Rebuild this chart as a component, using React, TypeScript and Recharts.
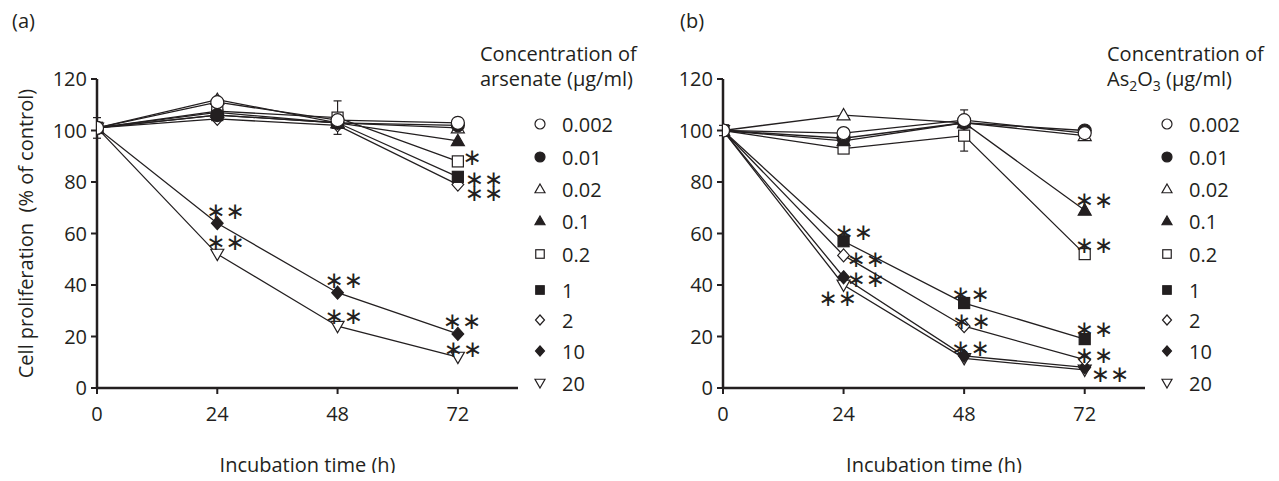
import React from "react";
import { ErrorBar, Label, Line, LineChart, XAxis, YAxis } from "recharts";

// incubation times (h)
const times = [0, 24, 48, 72];
const concentrations = ["0.002", "0.01", "0.02", "0.1", "0.2", "1", "2", "10", "20"];
const shapes = ["circleOpen", "circle", "triUpOpen", "triUp", "squareOpen", "square", "diamondOpen", "diamond", "triDownOpen"];
const yTicks = [0, 20, 40, 60, 80, 100, 120];

// (a) arsenate, % of control, one array per concentration
const arsenate0002 = [101, 111, 104, 103];
const arsenate001 = [101, 106, 103, 102];
const arsenate002 = [101, 112, 103, 101];
const arsenate01 = [101, 107, 103, 96];
const arsenate02 = [101, 107.5, 105, 88];
const arsenate1 = [101, 106, 103, 82];
const arsenate2 = [101, 104.5, 102, 79];
const arsenate10 = [101, 64, 37, 21];
const arsenate20 = [101, 52, 24, 12];

// (b) As2O3
const as2o3_0002 = [100, 99, 104, 99];
const as2o3_001 = [100, 97, 103, 100];
const as2o3_002 = [100, 106, 103, 98];
const as2o3_01 = [100, 96, 103, 69];
const as2o3_02 = [100, 93, 98, 52];
const as2o3_1 = [100, 57, 33, 19];
const as2o3_2 = [100, 51.5, 24, 11];
const as2o3_10 = [100, 43, 12.5, 8];
const as2o3_20 = [100, 40, 11.5, 7];

// error bars (+/-) by series index
const arsenateErr: Record<number, number[]> = { 0: [4, 0, 0, 0], 4: [0, 0, 6.5, 0] };
const as2o3Err: Record<number, number[]> = { 0: [2, 0, 4, 0], 4: [0, 0, 6, 0] };

// significance marks: series index, time, mark
const arsenateSig = [
    { s: 7, t: 24, mark: "∗∗" },
    { s: 8, t: 24, mark: "∗∗" },
    { s: 7, t: 48, mark: "∗∗" },
    { s: 8, t: 48, mark: "∗∗" },
    { s: 7, t: 72, mark: "∗∗" },
    { s: 8, t: 72, mark: "∗∗" },
    { s: 4, t: 72, mark: "∗" },
    { s: 5, t: 72, mark: "∗∗" },
    { s: 6, t: 72, mark: "∗∗" },
];
const as2o3Sig = [
    { s: 5, t: 24, mark: "∗∗" },
    { s: 6, t: 24, mark: "∗∗" },
    { s: 7, t: 24, mark: "∗∗" },
    { s: 8, t: 24, mark: "∗∗" },
    { s: 5, t: 48, mark: "∗∗" },
    { s: 6, t: 48, mark: "∗∗" },
    { s: 8, t: 48, mark: "∗∗" },
    { s: 3, t: 72, mark: "∗∗" },
    { s: 4, t: 72, mark: "∗∗" },
    { s: 5, t: 72, mark: "∗∗" },
    { s: 6, t: 72, mark: "∗∗" },
    { s: 8, t: 72, mark: "∗∗" },
];

// where each mark sits relative to its point (px)
const arsenateSigOffset: Record<string, number[]> = {
    "7-24": [8, -12], "8-24": [8, -12],
    "7-48": [6, -13], "8-48": [6, -10],
    "7-72": [4, -13], "8-72": [5, -8],
    "4-72": [14, -4], "5-72": [26, 2], "6-72": [26, 8],
};
const as2o3SigOffset: Record<string, number[]> = {
    "5-24": [10, -9], "6-24": [22, 4], "7-24": [22, 2], "8-24": [-6, 13],
    "5-48": [6, -9], "6-48": [7, -5], "8-48": [6, -10],
    "3-72": [9, -10], "4-72": [9, -9], "5-72": [9, -10], "6-72": [9, -5], "8-72": [25, 4],
};

const FONT = "'Open Sans', sans-serif";
const INK = "#231f20";
const legendRows = [124, 157, 189, 221, 254, 290, 320, 351, 383];

const buildRows = (series: number[][], errors: Record<number, number[]>) =>
    times.map((t, i) => {
        const row: any = { t };
        series.forEach((v, s) => { row[`s${s}`] = v[i]; });
        Object.keys(errors).forEach((s) => { row[`e${s}`] = errors[+s][i]; });
        return row;
    });

const Marker = ({ shape, x, y, size }: any) => {
    const filled = !shape.endsWith("Open");
    const p = { fill: filled ? INK : "#fff", stroke: INK, strokeWidth: 1.2 };
    const h = size / 2;
    switch (shape.replace("Open", "")) {
        case "circle":
            return <circle cx={x} cy={y} r={h} {...p} />;
        case "square": {
            const q = h * 0.85;
            return <rect x={x - q} y={y - q} width={2 * q} height={2 * q} {...p} />;
        }
        case "triUp":
            return <polygon points={`${x},${y - h} ${x + h},${y + h * 0.75} ${x - h},${y + h * 0.75}`} {...p} />;
        case "triDown":
            return <polygon points={`${x},${y + h} ${x + h},${y - h * 0.75} ${x - h},${y - h * 0.75}`} {...p} />;
        case "diamond":
            return <polygon points={`${x},${y - h} ${x + h * 0.9},${y} ${x},${y + h} ${x - h * 0.9},${y}`} {...p} />;
    }
    return null;
};

const makeDot = (s: number, sig: any[], offsets: Record<string, number[]>) => (props: any) => {
    const { cx, cy, index } = props;
    const t = times[index];
    const star = sig.find((m) => m.s === s && m.t === t);
    const off = offsets[`${s}-${t}`] || [0, 0];
    return (
        <g key={`dot-${s}-${index}`}>
            <Marker shape={shapes[s]} x={cx} y={cy} size={13} />
            {star && (
                <text
                    x={cx + off[0]}
                    y={cy + off[1]}
                    textAnchor="middle"
                    dominantBaseline="central"
                    fontFamily="'DejaVu Sans', sans-serif"
                    fontSize={23}
                    fill={INK}
                >
                    {star.mark}
                </text>
            )}
        </g>
    );
};

const XLabel = ({ viewBox }: any) => (
    <text x={viewBox.x + viewBox.width / 2} y={viewBox.y + 84} textAnchor="middle" fontFamily={FONT} fontSize={20} fill={INK}>
        Incubation time (h)
    </text>
);

const YLabel = ({ viewBox }: any) => {
    const x = 25;
    const y = viewBox.y + viewBox.height / 2;
    return (
        <text x={x} y={y} transform={`rotate(-90 ${x} ${y})`} textAnchor="middle" dominantBaseline="central" fontFamily={FONT} fontSize={20} fill={INK} style={{ whiteSpace: "pre" }}>
            {"Cell proliferation  (% of control)"}
        </text>
    );
};

const Panel = ({ series, errors, sig, offsets, width, yAxisWidth, right, tag, tagX, title, legendX, yLabel }: any) => {
    const data = buildRows(series, errors);
    const order = series.map((_: any, i: number) => i).reverse();
    return (
        <div style={{ position: "relative", width, height: 481 }}>
            <LineChart width={width} height={481} data={data} margin={{ top: 79, right, bottom: 0, left: 0 }}>
                <XAxis
                    type="number"
                    dataKey="t"
                    domain={[0, 84]}
                    ticks={times}
                    allowDataOverflow
                    height={93}
                    axisLine={{ stroke: INK, strokeWidth: 2.5 }}
                    tickLine={{ stroke: INK, strokeWidth: 2 }}
                    tickSize={6}
                    tickMargin={13}
                    tick={{ fill: INK, fontSize: 20, fontFamily: FONT }}
                >
                    <Label content={<XLabel />} />
                </XAxis>
                <YAxis
                    type="number"
                    domain={[0, 120]}
                    ticks={yTicks}
                    width={yAxisWidth}
                    axisLine={{ stroke: INK, strokeWidth: 2.5 }}
                    tickLine={{ stroke: INK, strokeWidth: 2 }}
                    tickSize={6}
                    tickMargin={4}
                    tick={{ fill: INK, fontSize: 20, fontFamily: FONT }}
                >
                    {yLabel && <Label content={<YLabel />} />}
                </YAxis>
                {order.map((s: number) => (
                    <Line
                        key={s}
                        type="linear"
                        dataKey={`s${s}`}
                        stroke={INK}
                        strokeWidth={1.3}
                        dot={makeDot(s, sig, offsets)}
                        activeDot={false}
                        isAnimationActive={false}
                    >
                        {errors[s] && <ErrorBar dataKey={`e${s}`} width={4} stroke={INK} strokeWidth={1.2} direction="y" />}
                    </Line>
                ))}
            </LineChart>
            <svg width={width} height={481} style={{ position: "absolute", left: 0, top: 0, pointerEvents: "none" }}>
                <text x={tagX} y={28} fontFamily={FONT} fontSize={20} fill={INK}>{tag}</text>
                <text x={legendX - 60} y={61} fontFamily={FONT} fontSize={20} fill={INK}>Concentration of</text>
                <text x={legendX - 60} y={86} fontFamily={FONT} fontSize={20} fill={INK}>{title}</text>
                {concentrations.map((c, i) => (
                    <g key={c}>
                        <Marker shape={shapes[i]} x={legendX} y={legendRows[i]} size={10} />
                        <text x={legendX + 22} y={legendRows[i]} dominantBaseline="central" fontFamily={FONT} fontSize={20} fill={INK}>{c}</text>
                    </g>
                ))}
            </svg>
        </div>
    );
};

const App = () => (
    <div style={{ position: "relative", width: 1279, height: 481, margin: -8, background: "#fff", overflow: "hidden" }}>
        <div style={{ position: "absolute", left: 0, top: 0 }}>
            <Panel
                series={[arsenate0002, arsenate001, arsenate002, arsenate01, arsenate02, arsenate1, arsenate2, arsenate10, arsenate20]}
                errors={arsenateErr}
                sig={arsenateSig}
                offsets={arsenateSigOffset}
                width={640}
                yAxisWidth={97}
                right={122}
                tag="(a)"
                tagX={12}
                title="arsenate (μg/ml)"
                legendX={540}
                yLabel
            />
        </div>
        <div style={{ position: "absolute", left: 640, top: 0 }}>
            <Panel
                series={[as2o3_0002, as2o3_001, as2o3_002, as2o3_01, as2o3_02, as2o3_1, as2o3_2, as2o3_10, as2o3_20]}
                errors={as2o3Err}
                sig={as2o3Sig}
                offsets={as2o3SigOffset}
                width={639}
                yAxisWidth={83}
                right={134}
                tag="(b)"
                tagX={40}
                title={<>As<tspan fontSize={14} dy={5}>2</tspan><tspan dy={-5}>O</tspan><tspan fontSize={14} dy={5}>3</tspan><tspan dy={-5}> (μg/ml)</tspan></>}
                legendX={527}
                yLabel={false}
            />
        </div>
    </div>
);

export default App;
